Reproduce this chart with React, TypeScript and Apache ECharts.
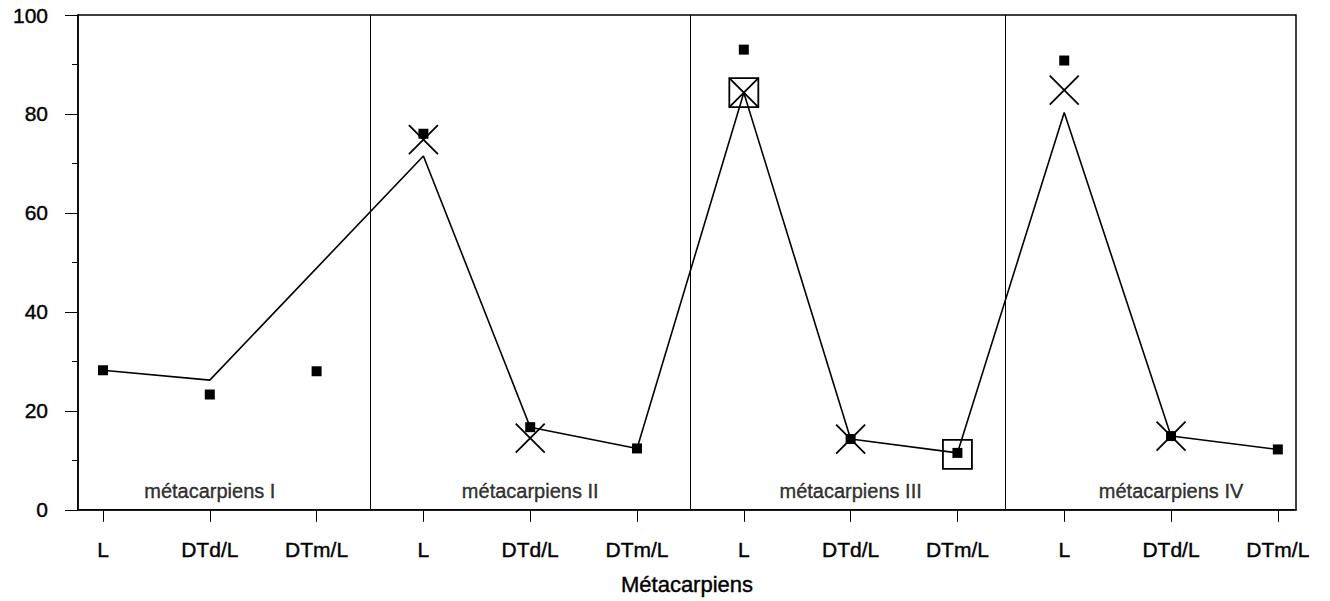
import React, { useEffect, useRef } from "react";
import * as echarts from "echarts";

const categories = ["L", "DTd/L", "DTm/L", "L", "DTd/L", "DTm/L", "L", "DTd/L", "DTm/L", "L", "DTd/L", "DTm/L"];
const lineValues = [28.2, 26.2, null, 71.5, 16.7, 12.4, 84.3, 14.3, 11.5, 80.3, 14.9, 12.2];
const filledSquares = [28.2, 23.3, 28.0, 76, 16.7, 12.4, 93, 14.3, 11.5, 90.8, 14.9, 12.2];
const crosses = [null, null, null, 74.8, 14.5, null, 84.3, 14.3, null, 84.8, 14.9, null];
const openSquares = [null, null, null, null, null, null, 84.3, null, 11.2, null, null, null];
const groupNames = ["métacarpiens I", "métacarpiens II", "métacarpiens III", "métacarpiens IV"];
const groupCenters = [1, 4, 7, 10];
const groupLabelY = 3.8;
const dividers = [2.5, 5.5, 8.45];

const FONT = "'Liberation Sans', Arial, Helvetica, sans-serif";
const textBold = { textBorderColor: "#000", textBorderWidth: 0.4 };

function pairs(vals: (number | null)[]) {
  return vals.map((v, i) => [i, v]).filter((p) => p[1] !== null);
}

export default function App() {
  const ref = useRef<HTMLDivElement>(null);
  useEffect(() => {
    document.body.style.margin = "0";
    const chart = echarts.init(ref.current!, null, { renderer: "svg" });
    const idx = categories.map((_, i) => i);
    chart.setOption({
      animation: false,
      backgroundColor: "#fff",
      grid: {
        left: 78,
        right: 34,
        top: 15,
        bottom: 87,
        show: true,
        borderColor: "#000",
        borderWidth: 1.5,
      },
      xAxis: {
        type: "value",
        min: -0.234,
        max: 11.17,
        name: "Métacarpiens",
        nameLocation: "middle",
        nameGap: 64,
        nameTextStyle: { fontFamily: FONT, fontSize: 22, color: "#000", ...textBold },
        axisLine: { show: true, onZero: false, lineStyle: { color: "#000", width: 1.5 } },
        axisTick: { show: true, length: 12, customValues: idx, lineStyle: { color: "#000", width: 1 } },
        axisLabel: {
          customValues: idx,
          formatter: (v: number) => categories[Math.round(v)] ?? "",
          fontFamily: FONT,
          fontSize: 21,
          color: "#000",
          margin: 29,
          ...textBold,
        },
        splitLine: { show: false },
      },
      yAxis: {
        type: "value",
        min: 0,
        max: 100,
        interval: 20,
        axisLine: { show: true, onZero: false, lineStyle: { color: "#000", width: 1.5 } },
        axisTick: { show: true, length: 13, lineStyle: { color: "#000", width: 1 } },
        minorTick: { show: true, splitNumber: 2, length: 6, lineStyle: { color: "#000", width: 1 } },
        axisLabel: {
          fontFamily: FONT,
          fontSize: 21,
          color: "#000",
          margin: 30,
          ...textBold,
        },
        splitLine: { show: false },
      },
      series: [
        {
          type: "line",
          data: lineValues.map((v, i) => [i, v]),
          connectNulls: true,
          showSymbol: false,
          symbol: "none",
          lineStyle: { color: "#000", width: 1.6 },
          z: 2,
          markLine: {
            silent: true,
            symbol: "none",
            label: { show: false },
            lineStyle: { color: "#000", width: 1, type: "solid" },
            data: dividers.map((d) => ({ xAxis: d })),
          },
        },
        {
          type: "scatter",
          data: pairs(openSquares),
          symbol: "rect",
          symbolSize: 29,
          itemStyle: { color: "rgba(0,0,0,0)", borderColor: "#000", borderWidth: 1.8, opacity: 1 },
          z: 3,
        },
        {
          type: "scatter",
          data: pairs(crosses),
          symbol: "path://M0,0L10,10M10,0L0,10",
          symbolSize: 29,
          itemStyle: { color: "rgba(0,0,0,0)", borderColor: "#000", borderWidth: 1.8, opacity: 1 },
          z: 4,
        },
        {
          type: "scatter",
          data: pairs(filledSquares),
          symbol: "rect",
          symbolSize: 10,
          itemStyle: { color: "#000", opacity: 1 },
          z: 5,
        },
        {
          type: "scatter",
          data: groupCenters.map((c) => [c, groupLabelY]),
          symbolSize: 0,
          label: {
            show: true,
            position: "inside",
            formatter: (p: any) => groupNames[p.dataIndex],
            fontFamily: FONT,
            fontSize: 20,
            color: "#000",
            ...textBold,
          },
          z: 6,
        },
      ],
    });
    return () => chart.dispose();
  }, []);
  return <div ref={ref} style={{ position: "fixed", left: 0, top: 0, width: 1330, height: 601 }} />;
}
